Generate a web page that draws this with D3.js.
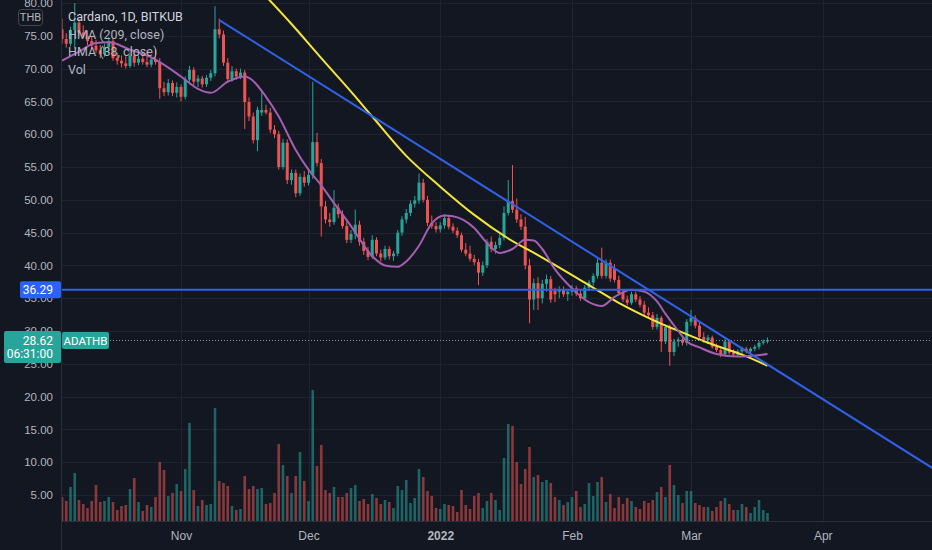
<!DOCTYPE html>
<html>
<head>
<meta charset="utf-8">
<script src="https://cdn.jsdelivr.net/npm/d3@7"></script>
<style>
  html, body { margin: 0; padding: 0; background: #131722; }
  svg { display: block; font-family: Roboto, "Noto Sans", sans-serif; }
</style>
</head>
<body>
<svg id="chart" width="932" height="550"></svg>
<script>
// daily candles, Oct 4 2021 .. Mar 19 2022
const startDay = Date.UTC(2021, 9, 4)

const opens = [
  76.0, 74.5, 73.8, 75.9, 77.0, 75.5, 75.0, 74.2, 73.5, 72.8,
  72.2, 73.3, 74.2, 71.6, 71.2, 70.8, 70.4, 72.0, 70.9, 71.5,
  71.0, 70.6, 71.4, 71.0, 67.0, 66.4, 67.8, 66.3, 67.2, 65.7,
  68.3, 69.8, 68.0, 68.5, 67.6, 68.6, 69.3, 76.0, 75.2, 70.9,
  68.4, 69.6, 68.8, 69.4, 64.9, 62.7, 59.1, 63.3, 63.7, 63.3,
  60.7, 60.0, 55.0, 58.7, 53.0, 54.1, 51.0, 53.5, 52.6, 53.8,
  58.8, 55.6, 49.0, 47.0, 46.6, 48.8, 47.8, 46.0, 43.9, 44.8,
  46.2, 43.6, 42.2, 41.3, 43.9, 41.8, 41.2, 42.5, 41.4, 41.8,
  45.0, 47.0, 48.0, 49.4, 49.9, 52.6, 50.0, 46.5, 46.0, 45.5,
  46.1, 47.2, 45.9, 45.3, 44.6, 42.4, 41.8, 41.0, 40.5, 38.9,
  40.0, 43.6, 42.5, 43.1, 44.2, 48.0, 49.8, 48.5, 47.0, 45.9,
  40.0, 34.8, 37.3, 35.0, 37.2, 37.9, 36.2, 36.0, 36.3, 35.6,
  36.0, 36.5, 35.7, 35.0, 36.6, 37.4, 38.4, 40.4, 38.4, 40.4,
  39.6, 37.8, 35.8, 34.8, 34.3, 35.6, 34.8, 34.0, 32.8, 32.4,
  30.6, 32.0, 28.4, 30.6, 26.8, 28.4, 28.7, 28.2, 31.4, 32.0,
  30.8, 29.1, 28.6, 29.0, 27.6, 27.1, 26.4, 28.4, 26.7, 26.4,
  26.9, 27.3, 26.9, 27.3, 27.6, 28.2, 28.4
]
const highs = [
  77.6, 75.4, 76.4, 80.0, 77.6, 76.6, 75.8, 74.9, 74.4, 73.6,
  73.8, 74.8, 74.6, 72.4, 72.0, 71.9, 72.6, 72.6, 72.0, 71.9,
  72.8, 71.8, 72.9, 71.6, 68.0, 68.4, 68.2, 67.9, 67.6, 68.8,
  70.4, 70.2, 69.0, 68.9, 69.0, 69.8, 79.5, 77.6, 75.8, 71.6,
  70.4, 70.0, 70.0, 69.8, 65.6, 63.3, 64.2, 66.6, 64.5, 64.0,
  61.4, 60.5, 59.3, 59.2, 54.6, 54.6, 54.0, 54.4, 54.4, 68.0,
  60.2, 56.2, 49.8, 48.0, 51.5, 49.4, 48.4, 46.7, 45.4, 48.5,
  46.8, 44.2, 42.8, 44.6, 44.3, 42.4, 43.0, 42.9, 42.2, 45.4,
  47.5, 48.6, 49.9, 50.6, 54.0, 53.2, 50.6, 47.6, 46.6, 46.6,
  47.8, 47.6, 46.4, 45.8, 45.0, 43.4, 43.0, 41.6, 41.0, 40.6,
  44.0, 44.4, 43.6, 44.8, 49.0, 53.0, 55.3, 50.2, 47.8, 47.4,
  41.0, 38.0, 38.2, 37.8, 38.6, 38.4, 36.6, 36.8, 36.8, 36.4,
  37.0, 36.9, 36.2, 37.0, 37.8, 38.8, 41.0, 42.7, 40.9, 40.9,
  40.2, 38.4, 36.3, 35.4, 36.0, 36.0, 35.3, 34.6, 33.6, 32.9,
  32.6, 32.3, 31.0, 31.0, 28.8, 29.0, 29.2, 31.8, 33.2, 32.4,
  31.4, 29.8, 29.4, 29.3, 28.1, 27.6, 28.8, 28.7, 27.2, 27.2,
  27.6, 27.6, 27.5, 27.9, 28.5, 28.7, 29.0
]
const lows = [
  73.8, 73.2, 73.4, 73.0, 75.0, 74.6, 73.6, 72.9, 72.4, 71.6,
  71.8, 72.6, 71.2, 70.6, 70.2, 70.0, 70.1, 70.3, 70.5, 70.6,
  70.2, 70.2, 70.6, 65.4, 65.8, 65.9, 65.8, 65.6, 65.0, 65.3,
  67.6, 67.5, 67.2, 67.1, 67.2, 68.1, 68.8, 74.6, 70.4, 67.9,
  68.0, 68.3, 68.4, 60.8, 62.0, 58.6, 57.4, 62.8, 63.0, 60.2,
  59.4, 54.6, 54.6, 52.4, 52.3, 50.4, 50.6, 52.0, 52.2, 53.2,
  55.1, 44.4, 46.4, 45.9, 46.2, 47.2, 45.6, 43.4, 43.4, 44.0,
  43.0, 41.6, 40.8, 41.0, 41.4, 40.6, 40.8, 40.9, 40.7, 41.4,
  44.5, 46.4, 47.5, 48.8, 49.4, 49.6, 46.0, 45.6, 45.0, 45.0,
  45.6, 45.5, 44.9, 44.2, 42.0, 41.4, 40.6, 40.0, 37.0, 38.4,
  39.6, 42.0, 41.8, 42.6, 43.8, 47.6, 48.0, 46.5, 45.4, 39.4,
  31.2, 33.2, 33.2, 34.2, 36.0, 34.3, 34.4, 35.0, 35.2, 34.6,
  35.4, 35.3, 34.6, 34.8, 36.1, 36.9, 38.0, 38.0, 38.0, 37.5,
  37.4, 35.4, 34.4, 33.9, 34.0, 34.4, 33.6, 32.4, 32.0, 30.2,
  30.2, 26.8, 28.0, 24.7, 26.2, 27.6, 27.8, 27.8, 30.8, 30.4,
  28.8, 28.2, 28.0, 27.3, 26.8, 26.0, 26.1, 26.4, 26.0, 26.1,
  26.5, 26.6, 26.6, 26.9, 27.2, 27.9, 28.1
]
const closes = [
  74.5, 73.8, 75.9, 77.0, 75.5, 75.0, 74.2, 73.5, 72.8, 72.2,
  73.3, 74.2, 71.6, 71.2, 70.8, 70.4, 72.0, 70.9, 71.5, 71.0,
  70.6, 71.4, 71.0, 67.0, 66.4, 67.8, 66.3, 67.2, 65.7, 68.3,
  69.8, 68.0, 68.5, 67.6, 68.6, 69.3, 76.0, 75.2, 70.9, 68.4,
  69.6, 68.8, 69.4, 64.9, 62.7, 59.1, 63.7, 63.7, 63.3, 60.7,
  60.0, 55.0, 58.7, 53.0, 54.1, 51.0, 53.5, 52.6, 53.8, 58.8,
  55.6, 49.0, 47.0, 46.6, 48.8, 47.8, 46.0, 43.9, 44.8, 46.2,
  43.6, 42.2, 41.3, 43.9, 41.8, 41.2, 42.5, 41.4, 41.8, 45.0,
  47.0, 48.0, 49.4, 49.9, 52.6, 50.0, 46.5, 46.0, 45.5, 46.1,
  47.2, 45.9, 45.3, 44.6, 42.4, 41.8, 41.0, 40.5, 38.9, 40.0,
  43.6, 42.5, 43.1, 44.2, 48.0, 49.8, 48.5, 47.0, 45.9, 40.0,
  34.8, 37.3, 35.0, 37.2, 37.9, 34.8, 35.6, 36.3, 35.6, 36.0,
  36.5, 35.7, 35.0, 36.6, 37.4, 38.4, 40.4, 38.4, 40.4, 38.0,
  37.8, 35.8, 34.8, 34.3, 35.6, 34.8, 34.0, 32.8, 32.4, 30.6,
  32.0, 28.4, 30.6, 26.8, 28.4, 28.7, 28.2, 31.4, 32.0, 30.8,
  29.1, 28.6, 29.0, 27.6, 27.1, 26.4, 28.4, 26.7, 26.4, 26.9,
  27.3, 26.9, 27.3, 27.6, 28.2, 28.4, 28.62
]
const volumes = [
  24, 20, 34, 48, 21, 17, 13, 20, 36, 19,
  20, 24, 19, 11, 15, 16, 32, 43, 19, 10,
  16, 14, 24, 59, 51, 25, 28, 37, 30, 52,
  98, 31, 15, 21, 16, 17, 113, 40, 38, 35,
  15, 11, 12, 45, 32, 35, 32, 33, 17, 18,
  28, 77, 56, 45, 28, 45, 69, 40, 20, 131,
  55, 76, 31, 28, 34, 24, 24, 28, 33, 36,
  20, 22, 17, 27, 23, 17, 21, 19, 13, 35,
  31, 41, 18, 23, 52, 44, 30, 25, 13, 12,
  17, 16, 15, 9, 31, 16, 12, 25, 28, 13,
  20, 28, 21, 11, 63, 97, 95, 59, 37, 52,
  74, 44, 46, 39, 41, 38, 24, 21, 16, 19,
  24, 30, 14, 17, 38, 25, 39, 44, 19, 27,
  13, 24, 17, 23, 20, 14, 12, 20, 18, 21,
  29, 34, 24, 56, 36, 26, 18, 30, 30, 18,
  16, 14, 14, 10, 14, 20, 23, 17, 11, 11,
  17, 14, 8, 14, 21, 11, 8
]

// indicator readings: day index and value
const hmaSlowDays = [47, 54, 61, 68, 73, 81, 89, 97, 105, 113, 124, 131, 139, 144, 152, 160, 166]
const hmaSlowVals = [81.7, 76.8, 71.6, 66.5, 62.7, 56.7, 52.0, 47.7, 44.1, 41.2, 37.0, 34.3, 31.7, 30.3, 28.2, 26.4, 24.7]
const hmaFastDays = [0, 4, 8, 11, 16, 21, 23, 28, 32, 35, 39, 43, 44, 48, 51, 55, 58, 61, 64, 68, 73, 76, 79, 81, 84, 87, 90, 92, 97, 100, 103, 106, 109, 111, 113, 116, 120, 124, 127, 130, 134, 137, 140, 142, 145, 147, 150, 154, 159, 162, 166]
const hmaFastVals = [71.2, 72.6, 73.9, 74.0, 72.9, 71.7, 71.0, 68.8, 66.9, 66.3, 68.0, 68.8, 68.6, 65.7, 62.7, 57.6, 54.6, 52.2, 49.5, 46.0, 41.4, 40.0, 39.8, 40.6, 43.0, 46.4, 47.6, 47.5, 45.7, 43.4, 41.9, 42.5, 43.9, 43.8, 42.5, 39.4, 36.5, 34.4, 33.8, 35.2, 36.3, 36.0, 34.5, 32.6, 30.0, 28.4, 27.5, 26.5, 26.1, 26.2, 26.5]

const trendDays = [37, 166]
const trendVals = [77.4, 24.9]
const hLevel = 36.29
const lastPrice = 28.62

const priceTicks = d3.range(5, 81, 5)
const legendLines = ['Cardano, 1D, BITKUB', 'HMA (209, close)', 'HMA (38, close)', 'Vol']

const W = 932
const H = 550
const left = 61
const paneBottom = 521
const green = '#26a69a'
const red = '#ef5350'

const svg = d3.select('#chart')
const day = i => new Date(startDay + i * 864e5)

const x = d3.scaleUtc()
  .domain([day(0), day(166)])
  .range([62, 767.5])
const y = d3.scaleLinear()
  .domain([5, 80])
  .range([495, 3])
const yVol = d3.scaleLinear()
  .domain([0, 140])
  .range([paneBottom, paneBottom - 140])

svg.append('rect')
  .attr('width', W)
  .attr('height', H)
  .attr('fill', '#131722')

svg.append('defs').append('clipPath')
  .attr('id', 'pane')
  .append('rect')
  .attr('x', left)
  .attr('y', 0)
  .attr('width', W - left)
  .attr('height', paneBottom)

const monthTicks = [
  new Date(Date.UTC(2021, 10, 1)), new Date(Date.UTC(2021, 11, 1)),
  new Date(Date.UTC(2022, 0, 1)), new Date(Date.UTC(2022, 1, 1)),
  new Date(Date.UTC(2022, 2, 1)), new Date(Date.UTC(2022, 3, 1))
]

// grid
const grid = svg.append('g').attr('stroke', '#1f232e').attr('stroke-width', 1)
grid.selectAll('.hg')
  .data(priceTicks)
  .join('line')
  .attr('x1', left)
  .attr('x2', W)
  .attr('y1', d => Math.round(y(d)) + 0.5)
  .attr('y2', d => Math.round(y(d)) + 0.5)
grid.selectAll('.vg')
  .data(monthTicks)
  .join('line')
  .attr('x1', d => Math.round(x(d)) + 0.5)
  .attr('x2', d => Math.round(x(d)) + 0.5)
  .attr('y1', 0)
  .attr('y2', paneBottom)

const pane = svg.append('g').attr('clip-path', 'url(#pane)')
const candles = d3.range(opens.length).map(i => ({
  date: day(i), o: opens[i], h: highs[i], l: lows[i], c: closes[i], v: volumes[i]
}))
const col = d => d.c >= d.o ? green : red

// volume
pane.append('g')
  .selectAll('rect')
  .data(candles)
  .join('rect')
  .attr('x', d => x(d.date) - 1.3)
  .attr('width', 2.6)
  .attr('y', d => yVol(d.v))
  .attr('height', d => yVol(0) - yVol(d.v))
  .attr('fill', col)
  .attr('opacity', 0.55)

// candles
const cg = pane.append('g')
cg.selectAll('line')
  .data(candles)
  .join('line')
  .attr('x1', d => x(d.date))
  .attr('x2', d => x(d.date))
  .attr('y1', d => y(d.h))
  .attr('y2', d => y(d.l))
  .attr('stroke', col)
  .attr('stroke-width', 1)
cg.selectAll('rect')
  .data(candles)
  .join('rect')
  .attr('x', d => x(d.date) - 1.5)
  .attr('width', 3)
  .attr('y', d => y(Math.max(d.o, d.c)))
  .attr('height', d => Math.max(1, Math.abs(y(d.o) - y(d.c))))
  .attr('fill', col)

// indicators
const hmaLine = curve => d3.line()
  .x(d => x(day(d[0])))
  .y(d => y(d[1]))
  .curve(curve)

pane.append('path')
  .datum(d3.zip(hmaSlowDays, hmaSlowVals))
  .attr('d', hmaLine(d3.curveCatmullRom.alpha(0.5)))
  .attr('fill', 'none')
  .attr('stroke', '#f2e63a')
  .attr('stroke-width', 2)

pane.append('path')
  .datum(d3.zip(hmaFastDays, hmaFastVals))
  .attr('d', hmaLine(d3.curveMonotoneX))
  .attr('fill', 'none')
  .attr('stroke', '#a45fb0')
  .attr('stroke-width', 2)

// trend line, extended to the right edge
const slope = (trendVals[1] - trendVals[0]) / (trendDays[1] - trendDays[0])
const endDay = 210
pane.append('line')
  .attr('x1', x(day(trendDays[0])))
  .attr('y1', y(trendVals[0]))
  .attr('x2', x(day(endDay)))
  .attr('y2', y(trendVals[0] + slope * (endDay - trendDays[0])))
  .attr('stroke', '#2f62e8')
  .attr('stroke-width', 2)

pane.append('line')
  .attr('x1', left)
  .attr('x2', W)
  .attr('y1', y(hLevel))
  .attr('y2', y(hLevel))
  .attr('stroke', '#2f62e8')
  .attr('stroke-width', 2)

// last price line
svg.append('line')
  .attr('x1', 110)
  .attr('x2', W)
  .attr('y1', Math.round(y(lastPrice)) + 0.5)
  .attr('y2', Math.round(y(lastPrice)) + 0.5)
  .attr('stroke', '#8c909a')
  .attr('stroke-width', 1)
  .attr('stroke-dasharray', '1 2')

// pane borders
svg.append('line')
  .attr('x1', left + 0.5).attr('x2', left + 0.5)
  .attr('y1', 0).attr('y2', H)
  .attr('stroke', '#2a2e39')
svg.append('line')
  .attr('x1', left).attr('x2', W)
  .attr('y1', paneBottom + 0.5).attr('y2', paneBottom + 0.5)
  .attr('stroke', '#2a2e39')

// axes
const yAxis = svg.append('g')
  .attr('transform', `translate(${left - 8},0)`)
  .call(d3.axisLeft(y).tickValues(priceTicks).tickFormat(d3.format('.2f')).tickSize(0).tickPadding(0))
yAxis.select('.domain').remove()
yAxis.selectAll('text')
  .attr('fill', '#b2b5be')
  .style('font-size', '11.5px')

const xAxis = svg.append('g')
  .attr('transform', `translate(0,${paneBottom})`)
  .call(d3.axisBottom(x)
    .tickValues(monthTicks)
    .tickFormat(d => d.getUTCMonth() === 0 ? String(d.getUTCFullYear()) : d3.utcFormat('%b')(d))
    .tickSize(0)
    .tickPadding(10))
xAxis.select('.domain').remove()
xAxis.selectAll('text')
  .attr('fill', '#b2b5be')
  .style('font-size', '12px')
  .style('font-weight', d => d.getUTCMonth() === 0 ? 'bold' : null)

// legend
svg.append('g')
  .selectAll('text')
  .data(legendLines)
  .join('text')
  .attr('x', 68)
  .attr('y', (d, i) => 17 + i * 17.4)
  .attr('dy', '0.35em')
  .attr('fill', (d, i) => i === 0 ? '#d1d4dc' : '#b2b5be')
  .style('font-size', '12.5px')
  .text(d => d)

// THB box
svg.append('rect')
  .attr('x', 18.5).attr('y', 9.5)
  .attr('width', 24).attr('height', 16)
  .attr('rx', 3)
  .attr('fill', '#131722')
  .attr('stroke', '#434651')
svg.append('text')
  .attr('x', 30.5).attr('y', 17.5)
  .attr('dy', '0.35em')
  .attr('text-anchor', 'middle')
  .attr('fill', '#b2b5be')
  .style('font-size', '11px')
  .text('THB')

// price labels on the axis
const hy = y(hLevel)
svg.append('rect')
  .attr('x', 20).attr('y', hy - 8.5)
  .attr('width', left - 20).attr('height', 17)
  .attr('rx', 2)
  .attr('fill', '#2962ff')
svg.append('text')
  .attr('x', 53).attr('y', hy)
  .attr('dy', '0.35em')
  .attr('text-anchor', 'end')
  .attr('fill', '#ffffff')
  .style('font-size', '12px')
  .text(hLevel.toFixed(2))

const ly = y(lastPrice)
svg.append('rect')
  .attr('x', 4).attr('y', ly - 9)
  .attr('width', left - 4).attr('height', 32)
  .attr('rx', 2)
  .attr('fill', green)
svg.append('text')
  .attr('x', 53).attr('y', ly + 1)
  .attr('dy', '0.35em')
  .attr('text-anchor', 'end')
  .attr('fill', '#ffffff')
  .style('font-size', '12px')
  .text(lastPrice.toFixed(2))
svg.append('text')
  .attr('x', 53).attr('y', ly + 14)
  .attr('dy', '0.35em')
  .attr('text-anchor', 'end')
  .attr('fill', '#ffffff')
  .style('font-size', '12px')
  .text('06:31:00')

svg.append('rect')
  .attr('x', 62).attr('y', ly - 8)
  .attr('width', 47).attr('height', 17)
  .attr('rx', 2)
  .attr('fill', green)
svg.append('text')
  .attr('x', 85.5).attr('y', ly + 0.5)
  .attr('dy', '0.35em')
  .attr('text-anchor', 'middle')
  .attr('fill', '#ffffff')
  .style('font-size', '11.5px')
  .text('ADATHB')
</script>
</body>
</html>
